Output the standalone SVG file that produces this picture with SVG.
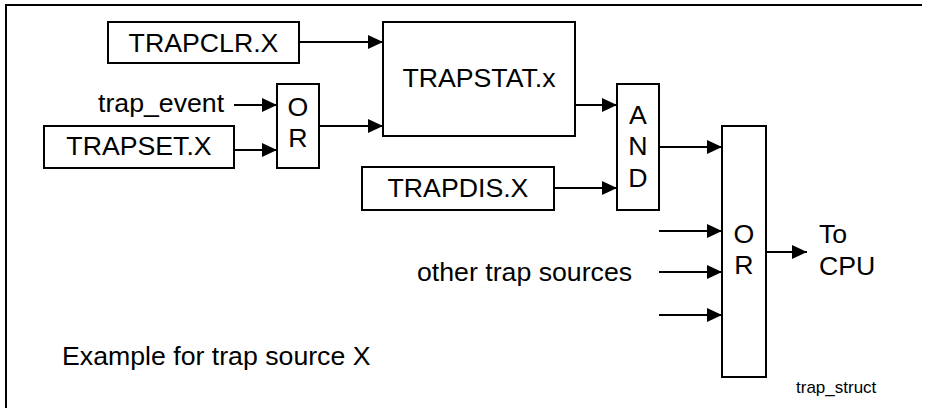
<svg xmlns="http://www.w3.org/2000/svg" width="927" height="408" viewBox="0 0 927 408">
  <style>
    .box { fill: #ffffff; stroke: #000000; stroke-width: 2; }
    .lbl { font-family: "Liberation Sans", Arial, sans-serif; font-size: 26.7px; fill: #000000; }
    .mid { text-anchor: middle; }
    .small { font-family: "Liberation Sans", Arial, sans-serif; font-size: 17px; fill: #000000; }
    .wire { stroke: #000000; stroke-width: 2; fill: none; marker-end: url(#arrow); }
    .frame { stroke: #000000; stroke-width: 2; fill: none; }
  </style>
  <defs>
    <marker id="arrow" markerUnits="userSpaceOnUse" markerWidth="15" markerHeight="14" refX="15" refY="7" orient="auto">
      <path d="M0,0 L15,7 L0,14 z" fill="#000000"/>
    </marker>
  </defs>
  <rect width="927" height="408" fill="#ffffff"/>
  <g id="frame">
    <path class="frame" d="M6,408 L6,5 L922,5"/>
  </g>
  <g id="connectors">
    <line class="wire" x1="299" y1="42" x2="383" y2="42"/>
    <line class="wire" x1="234" y1="105" x2="277" y2="105"/>
    <line class="wire" x1="234" y1="150" x2="277" y2="150"/>
    <line class="wire" x1="319" y1="126" x2="383" y2="126"/>
    <line class="wire" x1="575" y1="105" x2="617" y2="105"/>
    <line class="wire" x1="554" y1="188" x2="617" y2="188"/>
    <line class="wire" x1="659" y1="147" x2="722" y2="147"/>
    <line class="wire" x1="659" y1="231" x2="722" y2="231"/>
    <line class="wire" x1="659" y1="272" x2="722" y2="272"/>
    <line class="wire" x1="659" y1="315" x2="722" y2="315"/>
    <line class="wire" x1="766" y1="252" x2="807" y2="252"/>
  </g>
  <g id="trapclr">
    <rect class="box" x="108" y="22" width="191" height="41"/>
    <text class="lbl mid" x="203.5" y="52">TRAPCLR.X</text>
  </g>
  <g id="trapstat">
    <rect class="box" x="383" y="22" width="192" height="114"/>
    <text class="lbl mid" x="479" y="87">TRAPSTAT.x</text>
  </g>
  <g id="trap_event">
    <text class="lbl" x="98" y="112">trap_event</text>
  </g>
  <g id="trapset">
    <rect class="box" x="44" y="126" width="190" height="42"/>
    <text class="lbl mid" x="139" y="155">TRAPSET.X</text>
  </g>
  <g id="or1">
    <rect class="box" x="277" y="84" width="42" height="84"/>
    <text class="lbl mid" x="298" y="116">O</text>
    <text class="lbl mid" x="298" y="147">R</text>
  </g>
  <g id="trapdis">
    <rect class="box" x="362" y="167" width="192" height="43"/>
    <text class="lbl mid" x="458" y="197">TRAPDIS.X</text>
  </g>
  <g id="and">
    <rect class="box" x="617" y="84" width="42" height="126"/>
    <text class="lbl mid" x="638" y="124">A</text>
    <text class="lbl mid" x="638" y="155">N</text>
    <text class="lbl mid" x="638" y="187">D</text>
  </g>
  <g id="other_sources">
    <text class="lbl" x="417" y="281">other trap sources</text>
  </g>
  <g id="or2">
    <rect class="box" x="722" y="126" width="44" height="251"/>
    <text class="lbl mid" x="744" y="243">O</text>
    <text class="lbl mid" x="744" y="274">R</text>
  </g>
  <g id="to_cpu">
    <text class="lbl" x="819" y="243">To</text>
    <text class="lbl" x="819" y="275">CPU</text>
  </g>
  <g id="caption">
    <text class="lbl" x="62" y="365">Example for trap source X</text>
    <text class="small" x="796" y="393">trap_struct</text>
  </g>
</svg>
